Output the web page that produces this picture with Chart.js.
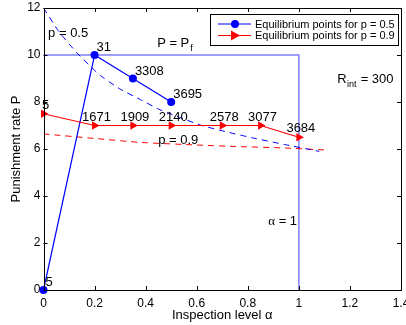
<!DOCTYPE html>
<html>
<head>
<meta charset="utf-8">
<script src="https://cdn.jsdelivr.net/npm/chart.js@4.4.1/dist/chart.umd.min.js"></script>
<style>
  html, body { margin: 0; padding: 0; background: #fff; }
  #wrap { width: 406px; height: 325px; }
</style>
</head>
<body>
<div id="wrap"><canvas id="c"></canvas></div>
<script>
// ---- data ----
const alphaP05 = [0, 0.2, 0.35, 0.5];
const rateP05 = [0, 10, 9, 8];
const labelsP05 = ['5', '31', '3308', '3695'];

const alphaP09 = [0, 0.2, 0.35, 0.5, 0.7, 0.85, 1.0];
const rateP09 = [7.5, 7, 7, 7, 7, 7, 6.5];
const labelsP09 = ['5', '1671', '1909', '2140', '2578', '3077', '3684'];

const curveAlpha05 = [0, 0.06, 0.13, 0.22, 0.3, 0.38, 0.45, 0.52, 0.62, 0.72, 0.82, 0.94, 1.08];
const curveRate05 = [12, 11.0, 10.1, 9.15, 8.55, 8.1, 7.7, 7.4, 7.0, 6.72, 6.47, 6.2, 5.9];

const curveAlpha09 = [0, 0.2, 0.38, 0.6, 0.77, 0.93, 1.1];
const curveRate09 = [6.64, 6.45, 6.28, 6.17, 6.1, 6.05, 5.96];

const boundaryAlpha = [0, 1, 1];
const boundaryRate = [10, 10, 0];

const xTicks = [0, 0.2, 0.4, 0.6, 0.8, 1, 1.2, 1.4];
const yTicks = [0, 2, 4, 6, 8, 10, 12];

const legendLabels = ['Equilibrium points for p = 0.5', 'Equilibrium points for p = 0.9'];

const toPts = (xs, ys) => xs.map((x, i) => ({ x: x, y: ys[i] }));

const FONT = '"Liberation Sans", Arial, Helvetica, sans-serif';

const annotPlugin = {
  id: 'annot',
  afterDatasetsDraw(chart) {
    const ctx = chart.ctx;
    const xs = chart.scales.x, ys = chart.scales.y;
    const ca = chart.chartArea;
    ctx.save();
    // box
    ctx.strokeStyle = '#000';
    ctx.lineWidth = 1;
    ctx.strokeRect(Math.round(ca.left) + 0.5, Math.round(ca.top) + 0.5,
      Math.round(ca.right - ca.left) - 1, Math.round(ca.bottom - ca.top));
    // inward ticks
    const tl = 4;
    ctx.beginPath();
    xTicks.forEach(v => {
      const px = Math.round(xs.getPixelForValue(v)) + 0.5;
      ctx.moveTo(px, ca.bottom); ctx.lineTo(px, ca.bottom - tl);
      ctx.moveTo(px, ca.top); ctx.lineTo(px, ca.top + tl);
    });
    yTicks.forEach(v => {
      const py = Math.round(ys.getPixelForValue(v)) + 0.5;
      ctx.moveTo(ca.left, py); ctx.lineTo(ca.left + tl, py);
      ctx.moveTo(ca.right, py); ctx.lineTo(ca.right - tl, py);
    });
    ctx.stroke();

    // point labels
    ctx.fillStyle = '#000';
    ctx.font = '13px ' + FONT;
    ctx.textBaseline = 'alphabetic';
    const m0 = chart.getDatasetMeta(0);
    ctx.textAlign = 'left';
    m0.data.forEach((el, i) => {
      ctx.fillText(labelsP05[i], el.x + 2, el.y - 4);
    });
    const m1 = chart.getDatasetMeta(1);
    ctx.textAlign = 'center';
    m1.data.forEach((el, i) => {
      ctx.fillText(labelsP09[i], el.x + 2, el.y - 5);
    });

    // text annotations (positioned in data coordinates)
    ctx.textAlign = 'left';
    const at = (a, p) => [xs.getPixelForValue(a), ys.getPixelForValue(p)];
    let [tx, ty] = at(0.018, 10.78);
    ctx.fillText('p = 0.5', tx, ty);
    [tx, ty] = at(0.449, 6.2);
    ctx.fillText('p = 0.9', tx, ty);
    [tx, ty] = at(0.445, 10.36);
    ctx.fillText('P = P', tx, ty);
    let w = ctx.measureText('P = P').width;
    ctx.font = '9px ' + FONT;
    ctx.fillText('f', tx + w + 1, ty + 4);
    ctx.font = '13px ' + FONT;
    [tx, ty] = at(1.15, 8.81);
    ctx.fillText('R', tx, ty);
    w = ctx.measureText('R').width;
    ctx.font = '9px ' + FONT;
    ctx.fillText('int', tx + w + 0.5, ty + 4);
    const w2 = ctx.measureText('int').width;
    ctx.font = '13px ' + FONT;
    ctx.fillText(' = 300', tx + w + w2 + 1, ty);
    [tx, ty] = at(0.88, 2.77);
    ctx.font = '13px "Liberation Serif", serif';
    ctx.fillText('\u03B1', tx, ty);
    w = ctx.measureText('\u03B1').width;
    ctx.font = '13px ' + FONT;
    ctx.fillText(' = 1', tx + w, ty);

    // legend
    const lx = ca.right - 191, ly = ca.top + 6, lw = 188, lh = 31;
    ctx.fillStyle = '#fff';
    ctx.fillRect(lx, ly, lw, lh);
    ctx.strokeStyle = '#000';
    ctx.lineWidth = 1;
    ctx.strokeRect(Math.round(lx) + 0.5, Math.round(ly) + 0.5, lw, lh);
    const rows = [ly + 10, ly + 21.5];
    const cols = ['#0000ff', '#ff0000'];
    rows.forEach((ry, i) => {
      ctx.strokeStyle = cols[i];
      ctx.fillStyle = cols[i];
      ctx.lineWidth = 1.2;
      ctx.beginPath();
      ctx.moveTo(lx + 8, ry); ctx.lineTo(lx + 41, ry);
      ctx.stroke();
      const mx = lx + 25;
      ctx.beginPath();
      if (i === 0) {
        ctx.arc(mx, ry, 4, 0, Math.PI * 2);
      } else {
        ctx.moveTo(mx + 5, ry); ctx.lineTo(mx - 4, ry - 5); ctx.lineTo(mx - 4, ry + 5); ctx.closePath();
      }
      ctx.fill();
      ctx.fillStyle = '#000';
      ctx.font = '11px ' + FONT;
      ctx.textBaseline = 'middle';
      ctx.fillText(legendLabels[i], lx + 45, ry + 0.5);
    });
    ctx.restore();
  }
};

new Chart(document.getElementById('c'), {
  type: 'scatter',
  data: {
    datasets: [
      {
        label: legendLabels[0],
        data: toPts(alphaP05, rateP05),
        showLine: true,
        borderColor: '#0000ff',
        backgroundColor: '#0000ff',
        borderWidth: 1.2,
        pointRadius: 4,
        pointStyle: 'circle',
        pointBorderWidth: 0,
        clip: 8,
        order: 1
      },
      {
        label: legendLabels[1],
        data: toPts(alphaP09, rateP09),
        showLine: true,
        borderColor: '#ff0000',
        backgroundColor: '#ff0000',
        borderWidth: 1.2,
        pointRadius: 5,
        pointStyle: 'triangle',
        rotation: 90,
        pointBorderWidth: 0,
        clip: 8,
        order: 0
      },
      {
        label: 'p = 0.5 curve',
        data: toPts(curveAlpha05, curveRate05),
        showLine: true,
        borderColor: '#0000ff',
        borderWidth: 1,
        borderDash: [6, 5],
        pointRadius: 0,
        tension: 0.15,
        order: 3
      },
      {
        label: 'p = 0.9 curve',
        data: toPts(curveAlpha09, curveRate09),
        showLine: true,
        borderColor: '#ff0000',
        borderWidth: 1,
        borderDash: [6, 5],
        pointRadius: 0,
        tension: 0.2,
        order: 4
      },
      {
        label: 'boundary',
        data: toPts(boundaryAlpha, boundaryRate),
        showLine: true,
        borderColor: '#7f7fff',
        borderWidth: 1.5,
        pointRadius: 0,
        order: 5
      }
    ]
  },
  options: {
    responsive: true,
    maintainAspectRatio: false,
    animation: false,
    layout: { padding: { top: 8, right: 5, left: 0, bottom: 0 } },
    plugins: { legend: { display: false }, tooltip: { enabled: false } },
    scales: {
      x: {
        type: 'linear',
        min: 0, max: 1.4,
        afterBuildTicks: s => { s.ticks = xTicks.map(v => ({ value: v })); },
        afterFit: s => { s.height = 35; s.paddingRight = 0; s.paddingLeft = 0; },
        grid: { display: false, drawTicks: false },
        border: { display: false },
        ticks: { color: '#000', font: { family: FONT, size: 12 }, padding: 6, maxRotation: 0,
          callback: v => String(Math.round(v * 10) / 10) },
        title: { display: true, text: 'Inspection level \u03B1', color: '#000',
          font: { family: FONT, size: 13 }, padding: { top: 2, bottom: 2 } }
      },
      y: {
        type: 'linear',
        min: 0, max: 12,
        afterBuildTicks: s => { s.ticks = yTicks.map(v => ({ value: v })); },
        afterFit: s => { s.width = 43.5; s.paddingTop = 0; s.paddingBottom = 0; },
        grid: { display: false, drawTicks: false },
        border: { display: false },
        ticks: { color: '#000', font: { family: FONT, size: 12 }, padding: 3 },
        title: { display: true, text: 'Punishment rate P', color: '#000',
          font: { family: FONT, size: 13 }, padding: { top: 9, bottom: 0 } }
      }
    }
  },
  plugins: [annotPlugin]
});
</script>
</body>
</html>
